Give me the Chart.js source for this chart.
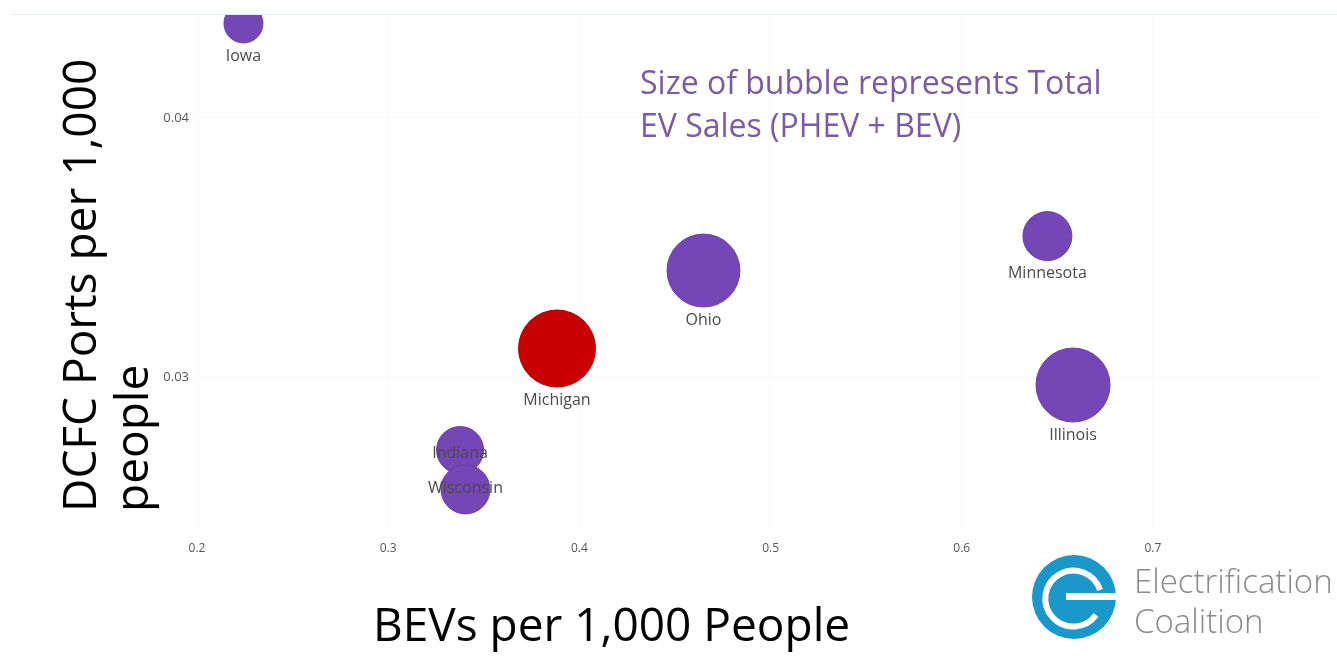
<!DOCTYPE html>
<html>
<head>
<meta charset="utf-8">
<script src="https://cdn.jsdelivr.net/npm/chart.js@4.4.1/dist/chart.umd.min.js"></script>
<style>
  html, body { margin: 0; padding: 0; background: #ffffff; }
  #wrap { position: relative; width: 1337px; height: 658px; overflow: hidden; background: #fff; }
  #c { position: absolute; left: 0; top: 0; }
  .topline { position: absolute; left: 10px; top: 14px; width: 1327px; height: 1px; background: #e4ecf3; }
  .ytitle { position: absolute; left: 0; top: 0; transform-origin: 0 0; transform: translate(52px, 512px) rotate(-90deg);
            font-family: "Open Sans", "Noto Sans", sans-serif; font-size: 46px; line-height: 52px; color: #000; white-space: nowrap; }
  .xtitle { position: absolute; left: 373px; top: 594px; font-family: "Open Sans", "Noto Sans", sans-serif; font-size: 46px; line-height: 58px; color: #000; white-space: nowrap; }
  .note { position: absolute; left: 640px; top: 60px; font-family: "Open Sans", "Noto Sans", sans-serif; font-size: 32px; line-height: 43px; color: #7b5aa8; white-space: nowrap; }
  .logo { position: absolute; left: 1030px; top: 553px; }
  .logotext { position: absolute; left: 1134px; top: 561px; font-family: "Open Sans", "Lato", sans-serif; font-weight: 300; font-size: 33px; line-height: 40px; color: #8a8a8a; white-space: nowrap; }
</style>
</head>
<body>
<div id="wrap">
  <canvas id="c" width="1337" height="658"></canvas>
  <div class="topline"></div>
  <div class="ytitle">DCFC Ports per 1,000<br>people</div>
  <div class="xtitle">BEVs per 1,000 People</div>
  <div class="note">Size of bubble represents Total<br>EV Sales (PHEV + BEV)</div>
  <svg class="logo" width="90" height="90" viewBox="0 0 90 90">
    <circle cx="44" cy="44" r="42" fill="#1a98cc"/>
    <path d="M 70 37 A 28 28 0 1 0 66 62" fill="none" stroke="#ffffff" stroke-width="6"/>
    <rect x="36" y="40" width="56" height="7" fill="#ffffff"/>
  </svg>
  <div class="logotext">Electrification<br>Coalition</div>
</div>
<script>
// ---- data ----
const states      = ['Iowa', 'Michigan', 'Ohio', 'Minnesota', 'Illinois', 'Indiana', 'Wisconsin'];
const bevPer1000  = [0.2243, 0.3883, 0.4649, 0.6448, 0.6582, 0.3376, 0.3404];
const dcfcPer1000 = [0.04365, 0.03110, 0.03411, 0.03544, 0.02969, 0.02718, 0.02566];
const evSalesK    = [9.0, 35.1, 31.5, 14.2, 32.4, 13.1, 14.2];   // total EV sales (thousands, estimated)
const xTicks      = [0.2, 0.3, 0.4, 0.5, 0.6, 0.7];
const yTicks      = [0.03, 0.04];
const highlight   = 'Michigan';

const purple = '#7446b6';
const red = '#c80000';
const sizeK = 6.5; // px radius per sqrt(thousand sales)

const points = states.map((s, i) => ({ x: bevPer1000[i], y: dcfcPer1000[i], r: sizeK * Math.sqrt(evSalesK[i]), label: s }));

const centeredLabels = ['Indiana', 'Wisconsin'];

const labelPlugin = {
  id: 'bubbleLabels',
  afterDatasetsDraw(chart) {
    const ctx = chart.ctx;
    const meta = chart.getDatasetMeta(0);
    ctx.save();
    ctx.font = '16px "Open Sans", "Noto Sans", sans-serif';
    ctx.fillStyle = '#4a4a4a';
    ctx.textAlign = 'center';
    ctx.textBaseline = 'middle';
    meta.data.forEach((el, i) => {
      const r = el.options.radius;
      const name = states[i];
      const y = centeredLabels.includes(name) ? el.y + (name === 'Indiana' ? 3 : -1) : el.y + r + 13;
      ctx.fillText(name, el.x, y);
    });
    ctx.restore();
  }
};

function zeroPad(s) { s.paddingTop = 0; s.paddingBottom = 0; s.paddingLeft = 0; s.paddingRight = 0; }

new Chart(document.getElementById('c'), {
  type: 'bubble',
  data: {
    datasets: [{
      data: points,
      clip: 0,
      backgroundColor: states.map(s => s === highlight ? red : purple),
      borderColor: states.map(s => s === highlight ? '#a80000' : '#6a3fa6'),
      borderWidth: 1
    }]
  },
  options: {
    responsive: false,
    animation: false,
    devicePixelRatio: 1,
    layout: { autoPadding: false, padding: { left: 0, top: 14, right: 12, bottom: 0 } },
    plugins: { legend: { display: false }, tooltip: { enabled: false } },
    scales: {
      x: {
        type: 'linear',
        min: 0.1979, max: 0.79,
        afterBuildTicks: (s) => { s.ticks = xTicks.map(v => ({ value: v })); },
        afterFit: (s) => { s.height = 128; zeroPad(s); },
        grid: { color: 'rgba(0,0,0,0.025)', drawTicks: false },
        border: { display: false },
        ticks: { padding: 11, color: '#555', maxRotation: 0, font: { size: 12, family: '"Open Sans", "Noto Sans", sans-serif' },
                 callback: (v) => String(v) }
      },
      y: {
        type: 'linear',
        min: 0.024093, max: 0.044015,
        afterBuildTicks: (s) => { s.ticks = yTicks.map(v => ({ value: v })); },
        afterFit: (s) => { s.width = 193; zeroPad(s); },
        grid: { color: 'rgba(0,0,0,0.025)', drawTicks: false },
        border: { display: false },
        ticks: { padding: 4, color: '#555', font: { size: 13, family: '"Open Sans", "Noto Sans", sans-serif' },
                 callback: (v) => String(v) }
      }
    }
  },
  plugins: [labelPlugin]
});
</script>
</body>
</html>
